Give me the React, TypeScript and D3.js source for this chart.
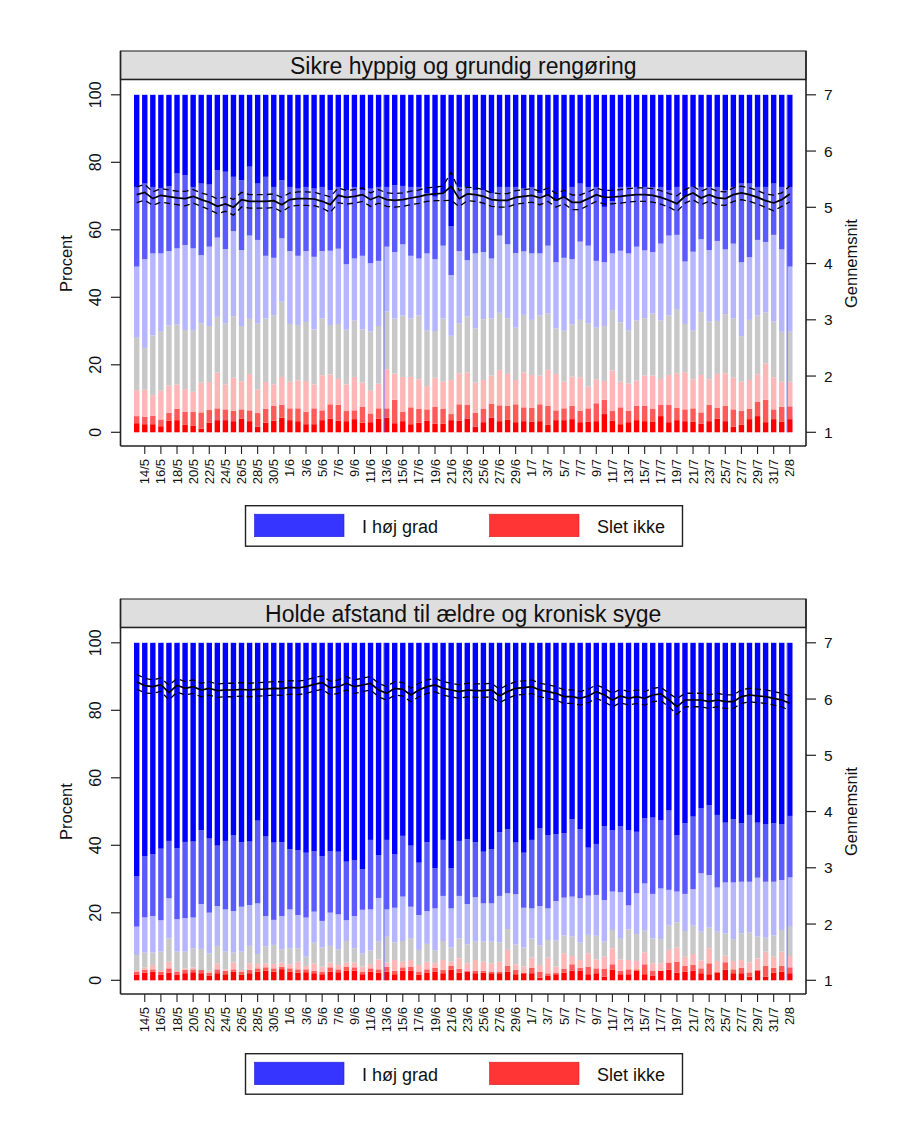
import React from "react";
import * as d3 from "d3";

// ---------- categories / labels ----------
const dates = [
  "13/5","14/5","15/5","16/5","17/5","18/5","19/5","20/5","21/5","22/5","23/5","24/5","25/5","26/5","27/5","28/5","29/5","30/5","31/5",
  "1/6","2/6","3/6","4/6","5/6","6/6","7/6","8/6","9/6","10/6","11/6","12/6","13/6","14/6","15/6","16/6","17/6","18/6","19/6","20/6",
  "21/6","22/6","23/6","24/6","25/6","26/6","27/6","28/6","29/6","30/6",
  "1/7","2/7","3/7","4/7","5/7","6/7","7/7","8/7","9/7","10/7","11/7","12/7","13/7","14/7","15/7","16/7","17/7","18/7","19/7","20/7",
  "21/7","22/7","23/7","24/7","25/7","26/7","27/7","28/7","29/7","30/7","31/7","1/8","2/8"
];
const tickLabels = [
  "14/5","16/5","18/5","20/5","22/5","24/5","26/5","28/5","30/5",
  "1/6","3/6","5/6","7/6","9/6","11/6","13/6","15/6","17/6","19/6","21/6","23/6","25/6","27/6","29/6",
  "1/7","3/7","5/7","7/7","9/7","11/7","13/7","15/7","17/7","19/7","21/7","23/7","25/7","27/7","29/7","31/7","2/8"
];
const edgeDays = ["13/6", "2/8"];
const leftTicks = [0, 20, 40, 60, 80, 100];
const rightTicks = [1, 2, 3, 4, 5, 6, 7];
// answer categories 1 (Slet ikke) ... 7 (I høj grad)
const catColors = ["#ff0000", "#ff5a5a", "#ffb6b6", "#c8c8c8", "#b6b6ff", "#5a5aff", "#0000ff"];
const legendItems = [
  { label: "I høj grad", color: "#3535ff" },
  { label: "Slet ikke", color: "#ff3535" },
];

// ---------- Panel 1: Sikre hyppig og grundig rengøring (cumulative % answering <= k) ----------
const cleanCum1 = [2.7,2.4,2.4,1.8,3.4,3.6,2.2,1.9,1.1,2.9,3.6,3.6,3.3,4.1,3.3,1.7,2.9,3.4,4.3,3.6,3.3,2.4,2.4,3.6,4.0,3.4,3.3,3.9,2.9,3.0,4.1,4.3,2.7,3.3,2.4,2.8,3.4,2.5,2.5,3.6,3.4,4.1,1.7,3.0,4.3,3.3,3.8,3.0,3.3,3.2,3.3,2.2,3.6,3.6,3.9,3.0,3.2,3.3,5.4,3.4,2.4,3.0,3.6,3.3,3.2,4.8,3.0,3.6,3.3,3.2,2.5,3.3,4.0,3.3,1.7,2.2,3.9,4.8,3.0,3.9,3.2,3.9];
const cleanCum2 = [4.8,4.6,4.9,3.8,5.8,6.9,6.1,6.0,5.9,6.6,7.1,6.8,6.4,6.8,6.5,5.7,7.0,7.8,8.1,7.1,7.1,6.1,7.1,6.5,8.3,8.1,6.3,6.5,7.5,5.6,7.1,7.1,9.6,6.1,7.4,6.9,6.8,7.5,6.9,5.4,8.3,8.1,5.8,6.9,8.5,8.0,7.8,8.3,7.4,7.3,8.3,7.8,6.5,7.1,7.8,6.4,7.1,8.6,9.6,6.3,7.4,6.4,7.8,7.8,6.9,8.1,8.1,7.3,6.8,7.1,5.9,8.1,7.3,7.8,6.8,6.3,6.9,9.1,9.6,6.8,7.6,7.7];
const cleanCum3 = [12.5,12.6,11.0,12.3,13.8,14.2,12.8,12.0,14.7,14.9,17.7,14.2,16.2,15.1,17.3,12.7,14.9,14.2,16.4,15.0,15.4,15.2,14.2,16.9,17.1,15.8,14.2,16.4,14.7,12.3,14.4,18.7,17.4,16.4,16.4,15.7,13.7,16.2,15.0,15.5,17.5,17.7,14.7,15.5,16.8,18.5,17.3,15.5,17.7,17.0,16.8,18.5,17.3,15.0,16.5,16.3,13.5,15.7,15.2,18.3,15.0,14.5,15.3,16.8,16.8,15.8,17.0,17.5,17.8,15.7,17.0,15.7,17.3,17.5,16.2,15.0,15.5,17.2,20.4,16.3,15.0,15.0];
const cleanCum4 = [28.0,25.0,28.7,29.8,31.7,31.9,30.3,30.1,32.3,31.5,34.2,32.3,34.4,31.5,33.6,32.2,33.7,34.7,38.7,32.1,31.8,32.7,30.5,33.8,31.8,32.1,30.4,33.1,30.5,29.9,31.5,35.8,33.7,34.6,33.7,34.6,30.1,30.0,33.7,28.6,32.3,34.3,30.8,33.5,33.8,35.4,33.8,31.0,34.8,33.3,34.6,35.2,30.8,30.1,32.0,33.3,32.3,31.0,31.5,36.2,32.6,30.1,33.1,33.8,35.2,33.1,34.6,36.5,32.1,30.1,35.6,32.8,33.0,35.0,33.8,28.5,33.3,34.6,35.5,32.8,29.8,29.8];
const cleanCum5 = [49.1,51.3,53.0,53.0,53.7,54.5,55.5,54.5,52.5,55.0,57.7,54.3,59.6,54.0,58.3,57.0,52.3,51.7,57.5,53.7,52.3,53.7,52.0,53.7,53.8,54.4,49.8,51.5,52.3,50.1,50.8,55.0,53.4,55.7,52.3,51.5,53.0,51.3,55.3,46.6,53.7,51.0,53.0,53.4,51.5,58.3,55.7,53.1,53.6,53.0,53.0,55.3,50.4,51.7,51.3,56.5,55.3,50.8,50.4,53.0,53.8,53.0,55.0,53.9,53.4,55.9,58.3,58.5,50.6,53.5,57.2,54.0,56.7,54.2,55.9,50.4,51.9,57.0,56.4,58.5,54.2,49.1];
const cleanCum6 = [72.7,73.7,72.7,72.4,72.9,76.7,76.2,72.7,73.7,73.4,77.7,77.2,75.7,74.7,78.7,73.7,75.7,72.7,74.7,72.7,72.2,72.7,72.2,72.7,71.8,72.7,71.8,72.7,71.8,72.2,72.7,72.7,73.2,73.0,72.7,72.7,70.8,69.8,70.8,61.0,72.7,72.7,71.8,71.8,70.8,72.7,72.7,72.7,72.2,72.7,70.8,70.3,68.5,69.5,72.7,73.7,72.7,72.7,66.8,68.5,72.7,72.7,72.7,72.7,72.7,72.7,71.8,72.7,69.8,72.7,72.7,72.7,72.7,71.8,72.7,73.7,73.7,72.7,72.7,73.7,72.7,72.7];
const cleanMean = [5.225,5.266,5.154,5.213,5.189,5.166,5.154,5.195,5.136,5.089,5.018,5.059,5.0,5.136,5.106,5.106,5.106,5.118,5.047,5.136,5.154,5.154,5.148,5.106,5.047,5.213,5.177,5.195,5.225,5.136,5.195,5.136,5.124,5.136,5.166,5.189,5.225,5.237,5.249,5.373,5.154,5.237,5.225,5.195,5.136,5.124,5.124,5.177,5.195,5.213,5.166,5.225,5.124,5.183,5.089,5.089,5.154,5.225,5.177,5.183,5.195,5.213,5.225,5.225,5.213,5.177,5.124,5.065,5.195,5.255,5.166,5.225,5.166,5.154,5.225,5.255,5.225,5.177,5.118,5.077,5.136,5.237];
const cleanCi = [0.14,0.14,0.12,0.12,0.12,0.12,0.13,0.12,0.12,0.13,0.13,0.13,0.14,0.13,0.12,0.12,0.12,0.12,0.13,0.12,0.12,0.12,0.12,0.12,0.14,0.13,0.12,0.12,0.12,0.12,0.12,0.12,0.12,0.12,0.12,0.12,0.12,0.12,0.13,0.25,0.14,0.12,0.12,0.12,0.12,0.12,0.12,0.12,0.12,0.12,0.12,0.12,0.12,0.12,0.13,0.13,0.12,0.12,0.12,0.12,0.12,0.12,0.12,0.12,0.12,0.12,0.12,0.14,0.12,0.12,0.12,0.12,0.12,0.12,0.12,0.12,0.12,0.12,0.12,0.14,0.12,0.14];

// ---------- Panel 2: Holde afstand til ældre og kronisk syge ----------
const distCum1 = [1.6,2.3,2.6,1.6,2.3,1.6,2.1,2.4,2.1,1.3,2.1,1.8,2.6,1.6,2.1,2.6,2.8,2.6,3.3,2.6,2.3,2.4,2.1,1.8,2.6,2.4,2.8,2.9,1.8,2.6,2.3,2.6,1.8,2.9,2.9,1.6,2.3,2.6,2.1,3.1,2.3,2.6,2.1,2.3,2.1,2.1,2.6,1.8,2.3,2.1,0.8,1.3,1.8,2.3,2.8,2.8,1.8,2.1,1.1,3.1,1.8,1.8,2.8,1.8,1.3,2.9,3.1,2.3,2.5,2.9,2.1,1.8,2.3,3.1,2.1,2.1,1.1,2.8,1.1,2.3,2.6,2.1];
const distCum2 = [2.6,3.1,3.25,2.6,3.55,2.6,3.1,3.25,3.1,2.3,3.25,2.85,3.25,2.6,3.1,3.55,3.85,3.55,4.05,3.55,3.25,3.25,2.85,2.6,3.85,3.25,4.05,3.85,2.6,3.55,3.25,4.05,2.85,3.85,4.05,2.6,3.25,3.75,3.1,4.25,3.45,2.85,2.75,2.85,2.6,2.6,4.25,3.1,2.05,3.75,2.6,2.05,2.3,3.35,4.75,3.75,4.05,3.55,3.35,4.75,2.85,3.25,3.25,4.75,2.75,2.75,5.25,5.5,4.25,4.55,3.55,5.05,2.6,5.35,3.25,3.75,2.35,3.1,4.25,3.75,4.25,3.85];
const distCum3 = [3.05,3.85,4.55,3.05,5.5,2.75,3.55,3.85,3.05,2.85,5.05,3.25,5.25,3.05,5.05,4.85,5.05,4.85,5.25,4.75,5.5,4.25,5.05,4.05,5.25,4.55,5.25,5.25,4.05,4.85,6.2,5.25,6.0,5.5,6.0,4.55,5.5,5.05,6.0,5.5,6.5,5.05,6.0,5.5,5.05,5.5,9.0,4.75,4.05,6.7,4.55,6.7,4.05,8.0,7.2,6.0,8.0,6.2,7.0,9.5,6.2,6.0,5.7,8.2,5.05,5.05,9.0,9.7,7.0,7.8,5.9,9.5,5.7,7.3,5.7,6.0,5.3,6.5,8.5,7.0,8.5,7.2];
const distCum4 = [7.5,8.2,8.2,8.5,12.4,8.5,8.5,9.5,9.3,8.0,10.2,8.5,8.2,8.5,10.2,7.8,10.0,10.5,9.2,9.5,9.5,7.0,11.15,9.7,10.2,9.2,11.65,9.5,7.9,8.8,11.45,12.9,11.25,11.65,12.5,9.0,10.8,8.9,11.65,9.7,12.4,10.65,11.45,11.45,11.45,11.25,15.2,10.65,9.7,12.4,10.3,11.95,11.75,13.3,12.95,11.15,13.45,13.2,11.45,14.9,12.3,15.1,13.7,14.7,12.4,12.2,16.2,17.2,14.6,16.2,14.4,15.6,14.4,13.9,12.2,13.9,14.2,12.95,12.6,13.3,14.9,16.1];
const distCum5 = [15.9,18.65,19.05,17.8,24.3,18.1,18.4,18.6,22.6,20.05,22.0,21.0,20.5,21.8,22.3,22.8,19.05,17.9,19.05,21.0,19.35,18.6,20.35,17.6,20.05,19.55,17.8,19.05,20.9,21.0,24.4,21.0,21.5,24.8,21.8,19.35,20.5,21.3,25.0,21.3,25.0,22.6,24.6,22.8,22.8,25.0,25.8,25.5,21.5,21.3,22.0,21.3,23.5,24.5,24.8,24.3,25.1,25.3,23.8,26.3,26.1,22.2,25.8,28.7,25.6,27.2,26.8,26.3,25.6,27.0,31.7,31.2,27.5,29.0,29.0,29.2,29.2,30.4,29.2,29.2,29.7,30.5];
const distCum6 = [30.9,36.8,37.4,39.0,41.3,39.1,41.0,41.1,44.5,42.0,39.9,41.3,43.05,40.9,41.1,47.3,42.6,40.8,40.9,38.8,38.6,37.8,38.3,36.8,38.3,38.1,35.15,35.65,32.9,41.6,37.1,41.6,37.4,42.8,39.9,34.85,40.9,33.2,41.6,33.2,41.3,41.8,40.9,38.1,38.8,43.85,44.7,40.8,37.8,41.6,45.0,43.05,43.25,43.55,47.7,44.8,39.3,40.4,45.7,44.5,45.7,44.5,44.0,48.0,48.2,47.5,50.3,43.05,46.5,48.5,50.95,51.9,49.0,46.7,47.7,46.5,49.0,46.7,46.3,46.5,46.3,48.7];
const distMean = [6.309,6.238,6.220,6.256,6.114,6.244,6.191,6.220,6.161,6.191,6.149,6.161,6.161,6.173,6.161,6.173,6.179,6.191,6.185,6.209,6.197,6.220,6.262,6.292,6.197,6.220,6.280,6.220,6.250,6.280,6.161,6.102,6.191,6.173,6.072,6.161,6.220,6.250,6.191,6.161,6.132,6.161,6.149,6.149,6.161,6.055,6.132,6.191,6.203,6.220,6.161,6.132,6.102,6.043,6.043,6.013,6.055,6.132,6.072,5.983,6.055,6.013,6.043,6.013,6.072,6.090,5.983,5.865,5.983,5.983,5.983,5.954,5.983,5.954,5.954,6.043,6.072,6.055,6.043,6.013,5.983,5.924];
const distCi = [0.13,0.13,0.12,0.12,0.13,0.12,0.12,0.12,0.12,0.12,0.12,0.12,0.12,0.12,0.12,0.12,0.12,0.12,0.12,0.12,0.12,0.12,0.12,0.12,0.12,0.12,0.12,0.12,0.12,0.12,0.12,0.12,0.12,0.12,0.12,0.12,0.12,0.12,0.12,0.12,0.12,0.12,0.12,0.12,0.12,0.12,0.12,0.12,0.12,0.12,0.12,0.12,0.12,0.12,0.12,0.12,0.12,0.12,0.12,0.12,0.12,0.12,0.12,0.12,0.12,0.12,0.12,0.14,0.12,0.12,0.12,0.12,0.12,0.12,0.12,0.12,0.12,0.12,0.12,0.12,0.12,0.13];

const FONT = "'Liberation Sans', Arial, Helvetica, sans-serif";

type PanelProps = {
  title: string;
  cums: number[][];
  mean: number[];
  ci: number[];
  top: number;
};

function Panel({ title, cums, mean, ci, top }: PanelProps) {
  const dy = top - 51;
  const frameL = 120.5, frameR = 806;
  const stripTop = 51 + dy, stripBot = 79.5 + dy, plotBot = 446 + dy;
  const x = d3.scalePoint<string>().domain(dates).range([136.7, 789.8]);
  const bw = x.step() * 0.67;
  const yL = d3.scaleLinear().domain([0, 100]).range([432.3 + dy, 94.8 + dy]);
  const yR = d3.scaleLinear().domain([1, 7]).range([432.3 + dy, 94.8 + dy]);

  const bars: JSX.Element[] = [];
  dates.forEach((d, i) => {
    for (let k = 0; k < 7; k++) {
      const lo = k === 0 ? 0 : cums[k - 1][i];
      const hi = k === 6 ? 100 : cums[k][i];
      bars.push(
        <rect key={`${d}-${k}`} x={(x(d) as number) - bw / 2} y={yL(hi)} width={bw}
          height={Math.max(0, yL(lo) - yL(hi))} fill={catColors[k]} />
      );
    }
  });

  const line = d3.line<number>()
    .x((_, i) => x(dates[i]) as number)
    .y((v) => yR(v));
  const upper = mean.map((m, i) => m + ci[i]);
  const lower = mean.map((m, i) => m - ci[i]);

  const legY = 505.7 + dy;
  return (
    <g>
      {/* strip */}
      <rect x={frameL} y={stripTop} width={frameR - frameL} height={stripBot - stripTop} fill="#dedede" stroke="#3a3a3a" strokeWidth={1.2} />
      <text x={(frameL + frameR) / 2} y={73.5 + dy} textAnchor="middle" fontSize={23} fontFamily={FONT} fill="#111">{title}</text>
      {/* plot area */}
      <rect x={frameL} y={stripBot} width={frameR - frameL} height={plotBot - stripBot} fill="#fff" stroke="none" />
      {bars}
      {edgeDays.map((d) => (
        <line key={d} x1={(x(d) as number) - bw / 2} x2={(x(d) as number) - bw / 2} y1={yL(0)} y2={yL(100)} stroke="#6a6aff" strokeWidth={1} />
      ))}
      <path d={line(upper) || ""} fill="none" stroke="#000" strokeWidth={1.3} strokeDasharray="6 4" />
      <path d={line(lower) || ""} fill="none" stroke="#000" strokeWidth={1.3} strokeDasharray="6 4" />
      <path d={line(mean) || ""} fill="none" stroke="#000" strokeWidth={1.7} />
      {/* frame */}
      <line x1={frameL} x2={frameL} y1={stripTop} y2={plotBot} stroke="#222" strokeWidth={1.6} />
      <line x1={frameR} x2={frameR} y1={stripTop} y2={plotBot} stroke="#222" strokeWidth={1.6} />
      <line x1={frameL} x2={frameR} y1={plotBot} y2={plotBot} stroke="#222" strokeWidth={1.6} />
      <line x1={frameL} x2={frameR} y1={stripBot} y2={stripBot} stroke="#222" strokeWidth={1.4} />
      {/* left axis */}
      {leftTicks.map((t) => (
        <g key={`l${t}`}>
          <line x1={111} x2={frameL} y1={yL(t)} y2={yL(t)} stroke="#222" strokeWidth={1.2} />
          <text transform={`translate(101,${yL(t)}) rotate(-90)`} textAnchor="middle" fontSize={16} fontFamily={FONT} fill="#111">{t}</text>
        </g>
      ))}
      <text transform={`translate(72,${yL(50)}) rotate(-90)`} textAnchor="middle" fontSize={16.5} fontFamily={FONT} fill="#111">Procent</text>
      {/* right axis */}
      {rightTicks.map((t) => (
        <g key={`r${t}`}>
          <line x1={frameR} x2={816} y1={yR(t)} y2={yR(t)} stroke="#222" strokeWidth={1.2} />
          <text x={824} y={yR(t) + 5.5} fontSize={15.5} fontFamily={FONT} fill="#111">{t}</text>
        </g>
      ))}
      <text transform={`translate(857,${yL(50)}) rotate(-90)`} textAnchor="middle" fontSize={16.5} fontFamily={FONT} fill="#111">Gennemsnit</text>
      {/* x axis */}
      {tickLabels.map((t) => (
        <g key={`x${t}`}>
          <line x1={x(t) as number} x2={x(t) as number} y1={plotBot} y2={plotBot + 8} stroke="#222" strokeWidth={1.1} />
          <text transform={`translate(${(x(t) as number) + 4.5},${plotBot + 13}) rotate(-90)`} textAnchor="end" fontSize={13} fontFamily={FONT} fill="#111">{t}</text>
        </g>
      ))}
      {/* legend */}
      <rect x={245.5} y={legY} width={437} height={40.5} fill="#fff" stroke="#222" strokeWidth={1.4} />
      <rect x={254.5} y={legY + 8.5} width={89.5} height={22.5} fill={legendItems[0].color} stroke="#2020d0" strokeWidth={0.6} />
      <text x={362} y={legY + 27} fontSize={18} fontFamily={FONT} fill="#111">{legendItems[0].label}</text>
      <rect x={489.5} y={legY + 8.5} width={89.5} height={22.5} fill={legendItems[1].color} stroke="#d02020" strokeWidth={0.6} />
      <text x={597} y={legY + 27} fontSize={18} fontFamily={FONT} fill="#111">{legendItems[1].label}</text>
    </g>
  );
}

export default function App() {
  return (
    <svg width={904} height={1136} style={{ position: "absolute", left: 0, top: 0, background: "#fff" }}>
      <rect x={0} y={0} width={904} height={1136} fill="#fff" />
      <Panel title="Sikre hyppig og grundig rengøring"
        cums={[cleanCum1, cleanCum2, cleanCum3, cleanCum4, cleanCum5, cleanCum6]}
        mean={cleanMean} ci={cleanCi} top={51} />
      <Panel title="Holde afstand til ældre og kronisk syge"
        cums={[distCum1, distCum2, distCum3, distCum4, distCum5, distCum6]}
        mean={distMean} ci={distCi} top={599} />
    </svg>
  );
}
